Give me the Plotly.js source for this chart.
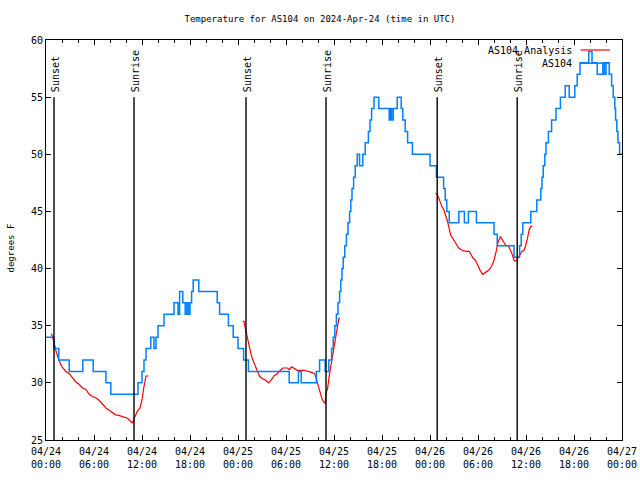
<!DOCTYPE html>
<html>
<head>
<meta charset="utf-8">
<script src="https://cdn.plot.ly/plotly-3.0.1.min.js"></script>
<style>html,body{margin:0;padding:0;background:#fff;}</style>
</head>
<body>
<div id="chart" style="width:640px;height:480px;"></div>
<script>
// Hours since 2024-04-24 00:00 UTC
const blueHours = [0,1.0,1.6,2.9,4.6,5.9,7.5,8.1,11.5,12.0,12.25,12.5,13.1,13.5,13.75,14.0,14.75,16.0,16.5,16.7,17.1,17.4,17.6,17.8,18.0,18.2,18.4,19.1,21.4,21.7,22.8,23.4,24.0,24.7,25.3,30.4,31.55,31.9,33.8,34.2,34.9,35.35,35.7,35.9,36.1,36.3,36.5,36.7,36.85,37.0,37.15,37.35,37.55,37.75,37.95,38.1,38.25,38.45,38.65,38.9,39.2,39.6,39.9,40.3,40.5,40.7,41.0,41.6,42.9,43.05,43.2,43.4,43.9,44.4,44.6,44.9,45.2,45.8,48.0,48.8,49.7,49.9,50.1,50.4,51.6,52.3,52.8,53.8,56.0,56.4,58.5,59.2,59.4,59.6,60.6,61.35,61.85,62.0,62.15,62.35,62.5,62.8,63.2,63.75,64.3,64.9,65.4,66.1,66.4,66.75,67.85,68.25,68.9,69.6,69.8,70.0,70.4,70.7,70.9,71.1,71.2,71.35,71.5,71.7,72.0];
const blueTemp = [34,33,32,31,32,31,30,29,30,31,32,33,34,33,34,35,36,37,36,38,37,36,37,36,37,38,39,38,37,36,35,34,33,32,31,30,31,30,31,32,31,32,33,34,35,36,37,38,39,40,41,42,43,44,45,46,47,48,49,50,49,50,51,52,53,54,55,54,53,54,53,54,55,54,53,52,51,50,49,48,47,46,45,44,45,44,45,44,43,42,41,42,43,44,45,46,47,48,49,50,51,52,53,54,55,56,55,56,57,58,59,58,57,58,57,58,57,56,55,54,53,52,51,50,50];

const redHours = [0.67,1.0,1.2,1.4,1.6,2.0,2.5,2.9,3.3,3.7,4.1,4.5,5.0,5.4,5.8,6.2,6.6,7.0,7.5,7.9,8.3,8.7,9.1,9.75,10.2,10.6,10.8,11.1,11.4,11.75,12.0,12.2,12.4,12.5,12.8,
  null,
  24.6,24.75,25.0,25.2,25.4,25.6,25.8,26.1,26.4,26.7,27.0,27.5,27.8,28.1,28.5,28.9,29.3,29.6,30.2,30.4,30.7,31.0,31.4,32.25,32.9,33.3,33.6,33.9,34.1,34.3,34.5,34.75,34.9,35.0,35.2,35.4,35.6,35.8,36.0,36.2,36.4,36.6,36.75,
  null,
  48.7,48.9,49.1,49.3,49.5,49.75,49.96,50.2,50.4,50.6,50.8,51.0,51.2,51.4,51.6,52.0,52.5,52.9,53.1,53.4,53.7,54.0,54.3,54.6,55.0,55.4,55.7,56.0,56.3,56.5,56.8,57.0,57.25,57.5,57.8,58.1,58.3,58.5,58.7,58.9,59.1,59.3,59.5,59.75,59.96,60.2,60.4,60.6,60.8];
const redTemp = [34.3,33.6,32.9,32.4,32.0,31.4,31.0,30.8,30.4,30.1,29.9,29.6,29.4,29.0,28.8,28.7,28.5,28.2,27.8,27.6,27.4,27.2,27.15,27.0,26.9,26.6,26.5,27.0,27.5,27.8,28.5,29.5,30.4,30.6,30.6,
  null,
  35.4,35.35,34.5,33.8,33.2,32.6,32.1,31.6,31.0,30.55,30.4,30.2,30.0,30.2,30.6,30.8,31.1,31.3,31.3,31.15,31.4,31.3,31.1,31.1,31.0,30.9,30.8,30.1,29.5,29.0,28.6,28.3,28.2,29.1,29.5,30.6,31.4,32.1,33.0,33.9,34.8,35.6,35.7,
  null,
  46.6,46.5,46.15,45.7,45.4,45.1,44.7,44.1,43.5,42.9,42.7,42.5,42.2,42.0,41.8,41.6,41.5,41.5,41.2,40.9,40.7,40.2,39.8,39.5,39.7,39.9,40.2,40.7,41.6,42.3,42.8,42.6,42.3,42.0,42.0,41.6,41.2,40.7,40.65,40.8,41.0,41.2,41.5,41.6,42.0,42.7,43.4,43.7,43.7];

const sunsetHours = [1.0, 25.0, 48.9];
const sunriseHours = [11.0, 35.0, 58.9];
const eventTop = 55, eventBottom = 25;

const seriesNames = ['AS104 Analysis', 'AS104'];
const seriesColors = ['#ff0000', '#0080ff'];

const titleText = 'Temperature for AS104 on 2024-Apr-24 (time in UTC)';
const yTitle = 'degrees F';

const base = Date.UTC(2024, 3, 24, 0, 0, 0);
const HOUR = 3600000;
const toT = h => (h === null ? null : base + h * HOUR);

const FONT = 'DejaVu Sans Mono';

const traces = [
  {x: redHours.map(toT), y: redTemp, type: 'scatter', mode: 'lines', name: seriesNames[0],
   line: {color: seriesColors[0], width: 1.2}, connectgaps: false},
  {x: blueHours.map(toT), y: blueTemp, type: 'scatter', mode: 'lines', name: seriesNames[1],
   line: {color: seriesColors[1], width: 1.5, shape: 'hv'}}
];

const shapes = [];
const annotations = [];
function addEvent(h, label) {
  shapes.push({type: 'line', xref: 'x', yref: 'y', x0: toT(h), x1: toT(h), y0: eventBottom, y1: eventTop,
    line: {color: '#000', width: 1.4}});
  annotations.push({x: toT(h), y: eventTop, xref: 'x', yref: 'y', text: label, textangle: -90,
    showarrow: false, xanchor: 'center', yanchor: 'bottom', yshift: 3, xshift: 1,
    font: {family: FONT, size: 10, color: '#000'}});
}
sunsetHours.forEach(h => addEvent(h, 'Sunset'));
sunriseHours.forEach(h => addEvent(h, 'Sunrise'));

// legend (gnuplot style: text right, sample line to its right)
const legY = [0.975, 0.942];
seriesNames.forEach((n, i) => {
  annotations.push({xref: 'paper', yref: 'paper', x: 0.917, y: legY[i], text: n, showarrow: false,
    xanchor: 'right', yanchor: 'middle', font: {family: FONT, size: 10, color: '#000'}});
  shapes.push({type: 'line', xref: 'paper', yref: 'paper', x0: 0.928, x1: 0.979, y0: legY[i], y1: legY[i],
    line: {color: seriesColors[i], width: i === 0 ? 1.2 : 1.5}});
});

// y-axis title placed like gnuplot's
annotations.push({xref: 'paper', yref: 'paper', x: -0.061, y: 0.481, text: yTitle, textangle: -90,
  showarrow: false, xanchor: 'center', yanchor: 'middle', font: {family: FONT, size: 9, color: '#000'}});

const layout = {
  width: 640, height: 480,
  margin: {l: 46, r: 18, t: 40, b: 40},
  paper_bgcolor: '#fff', plot_bgcolor: '#fff',
  showlegend: false,
  font: {family: FONT, size: 10, color: '#000'},
  title: {text: titleText, x: 0.5, xanchor: 'center', y: 0.96, yref: 'container', yanchor: 'middle',
    font: {family: FONT, size: 9, color: '#000'}},
  xaxis: {
    type: 'date', range: [toT(0), toT(72)],
    tick0: toT(0), dtick: 6 * HOUR, tickformat: '%m/%d<br>%H:%M',
    ticks: 'inside', ticklen: 5, tickcolor: '#000', tickwidth: 1,
    minor: {dtick: 2 * HOUR, tick0: toT(0), ticks: 'inside', ticklen: 3, tickcolor: '#000', showgrid: false},
    showline: true, linecolor: '#000', linewidth: 1, mirror: 'allticks',
    showgrid: false, zeroline: false, ticklabelstandoff: 2,
    tickfont: {family: FONT, size: 10, color: '#000'}
  },
  yaxis: {
    range: [25, 60], dtick: 5, tick0: 25,
    ticks: 'inside', ticklen: 5, tickcolor: '#000', tickwidth: 1,
    showline: true, linecolor: '#000', linewidth: 1, mirror: 'allticks',
    showgrid: false, zeroline: false,
    tickfont: {family: FONT, size: 10, color: '#000'}
  },
  shapes: shapes,
  annotations: annotations
};

Plotly.newPlot('chart', traces, layout, {displayModeBar: false, staticPlot: true});
</script>
</body>
</html>
